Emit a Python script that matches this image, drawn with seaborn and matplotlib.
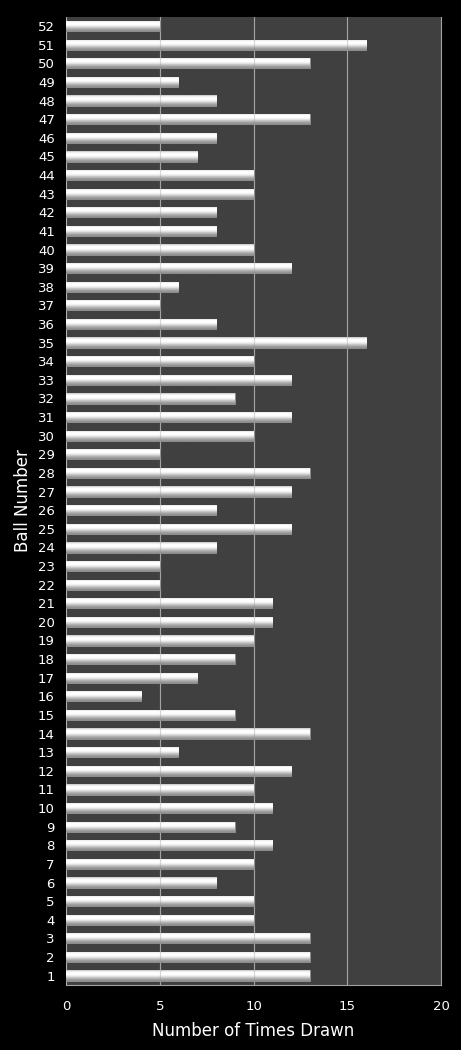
import matplotlib
matplotlib.use("Agg")
import matplotlib.pyplot as plt
import numpy as np
import pandas as pd
import seaborn as sns

balls = list(range(1, 53))
times_drawn = [13, 13, 13, 10, 10, 8, 10, 11, 9, 11,
               10, 12, 6, 13, 9, 4, 7, 9, 10, 11,
               11, 5, 5, 8, 12, 8, 12, 13, 5, 10,
               12, 9, 12, 10, 16, 8, 5, 6, 12, 10,
               8, 8, 10, 10, 7, 8, 13, 8, 6, 13,
               16, 5]
x_ticks = [0, 5, 10, 15, 20]

df = pd.DataFrame({"ball": [str(b) for b in balls], "times": times_drawn})
order = [str(b) for b in reversed(balls)]

sns.set_style("dark")
plt.rcParams["font.family"] = ["DejaVu Sans"]

fig = plt.figure(figsize=(4.61, 10.5), dpi=100, facecolor="black")
ax = fig.add_axes([0.143, 0.062, 0.814, 0.922])
ax.set_facecolor("#404040")

sns.barplot(data=df, x="times", y="ball", order=order, orient="h",
            color="white", width=0.55, edgecolor="#8a8a8a", linewidth=0.6,
            saturation=1, ax=ax, zorder=3)

# shading on each bar: light top, white middle, grey bottom (first row = top)
grad = np.array([0.82, 0.95, 1.0, 1.0, 0.98, 0.92, 0.82, 0.72, 0.64, 0.58]).reshape(-1, 1)
for p in ax.patches:
    x0, y0 = p.get_x(), p.get_y()
    w, h = p.get_width(), p.get_height()
    im = ax.imshow(grad, cmap="gray", vmin=0, vmax=1, aspect="auto",
                   extent=[x0, x0 + w, y0, y0 + h], origin="lower",
                   interpolation="bilinear", zorder=4)
    im.set_clip_path(p)

ax.set_xlim(0, 20)
ax.set_ylim(len(balls) - 0.5, -0.5)
ax.set_xticks(x_ticks)
ax.xaxis.grid(True, color="#b0b0b0", linewidth=0.8, zorder=1)
ax.yaxis.grid(False)
ax.set_axisbelow(True)
# faint gridlines showing through the bars
for xv in x_ticks[1:-1]:
    ax.axvline(xv, color="#909090", linewidth=0.8, alpha=0.35, zorder=5)

for side in ["top", "left"]:
    ax.spines[side].set_visible(False)
for side in ["right", "bottom"]:
    ax.spines[side].set_visible(True)
    ax.spines[side].set_color("#a0a0a0")
    ax.spines[side].set_linewidth(0.8)

ax.tick_params(axis="both", colors="white", labelsize=9.5, length=0, pad=8)
ax.tick_params(axis="x", pad=11)
ax.set_xlabel("Number of Times Drawn", color="white", fontsize=12, labelpad=6)
ax.set_ylabel("Ball Number", color="white", fontsize=12, labelpad=4)

fig.savefig("out.png", dpi=100, facecolor="black")
